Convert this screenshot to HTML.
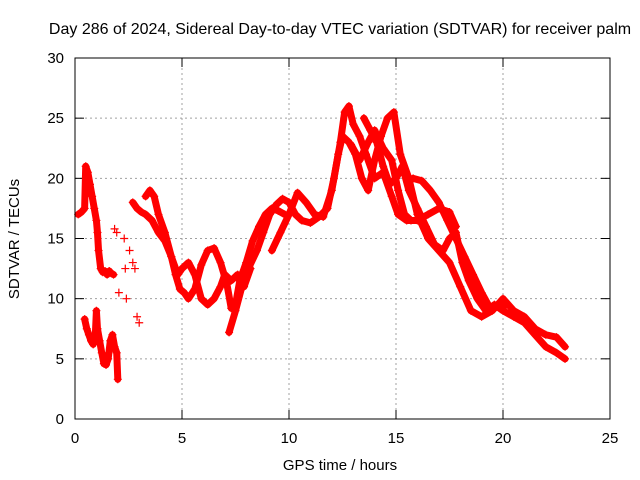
<!DOCTYPE html>
<html><head><meta charset="utf-8"><style>
body{margin:0;background:#fff}
svg{display:block;font-family:"Liberation Sans",sans-serif}
</style></head><body>
<svg id="chart" width="640" height="480" viewBox="0 0 640 480">
<text x="340" y="34" font-size="16" text-anchor="middle">Day 286 of 2024, Sidereal Day-to-day VTEC variation (SDTVAR) for receiver palm</text>
<g id="grid"></g>
<g id="ticks"></g>
<g id="marks"></g>
<rect x="75" y="58" width="535" height="361" fill="none" stroke="#000" stroke-width="1"/>
<text x="340" y="470" font-size="15" text-anchor="middle">GPS time / hours</text>
<text transform="translate(19,239) rotate(-90)" font-size="15" text-anchor="middle">SDTVAR / TECUs</text>
</svg>
<script>
const xTicks=[0,5,10,15,20,25];
const yTicks=[0,5,10,15,20,25,30];
const trackA_x=[0.15,0.3,0.45,0.5,0.6,0.7,0.8,0.9,1.0,1.05,1.1,1.2,1.3,1.4,1.5,1.6,1.7,1.8];
const trackA_y=[17,17.2,17.5,21,20.5,19.5,18.5,17.5,16.5,15.5,14,12.5,12.2,12.3,12,12.3,12.1,12];
const trackB_x=[0.45,0.55,0.65,0.75,0.85,0.95,1.0,1.05,1.15,1.25,1.35,1.45,1.55,1.65,1.75,1.85,1.95,2.0];
const trackB_y=[8.3,7.5,7,6.5,6.2,7,9,7.5,6.5,5.5,4.6,4.5,5,6.5,7,6,5.5,3.3];
const trackC_x=[1.85,1.95,2.05,2.3,2.35,2.4,2.55,2.7,2.8,2.9,3.0];
const trackC_y=[15.8,15.5,10.5,15,12.5,10,14,13,12.5,8.5,8];
const trackD_x=[2.7,2.9,3.1,3.3,3.6,3.9,4.2,4.5,4.7,4.9,5.1,5.3,5.6,5.9,6.2,6.5,6.8,7.1,7.3,7.5,7.7,8.0,8.3,8.6,8.9,9.2,9.5,9.8];
const trackD_y=[18,17.5,17.2,17,16.5,15.5,14.8,13.5,12,10.8,10.5,10,10.8,12.8,14,14.2,13,11.2,9.2,9.5,11.5,13,14.8,16,17,17.5,17.3,17];
const trackE_x=[3.3,3.5,3.7,3.9,4.2,4.5,4.8,5.0,5.3,5.6,5.9,6.2,6.5,6.8,7.0,7.3,7.6,7.9,8.2];
const trackE_y=[18.5,19,18.5,17,15.5,13.5,12,12.5,13,12,10,9.5,10,11,12,11.5,12,11,12.5];
const trackF_x=[7.2,7.5,7.8,8.1,8.5,8.8,9.1,9.4,9.7,10.0,10.3,10.6,11.0,11.4,11.8,12.1,12.4,12.6,12.8,13.0,13.3,13.6,14.0,14.4,14.8,15.1,15.5,16.0,16.5,17.0,17.5,17.8];
const trackF_y=[7.2,9,11,12.5,14,15.5,17,17.8,18.3,18,17,16.5,16.3,16.8,17.5,20,23,25.5,26,24.5,23.5,22,20,20.5,18.5,17,16.5,16.5,17,17.5,17.2,16];
const trackG_x=[9.2,9.6,10.0,10.4,10.8,11.2,11.6,12.0,12.3,12.5,12.8,13.1,13.4,13.7,14.0,14.3,14.6,14.9,15.2,15.6,16.0,16.5,17.0,17.5,18.0,18.5,19.0,19.5,20.0,20.5,21.0,21.5,22.0,22.5,22.9];
const trackG_y=[14,15.5,17,18.8,18,17,16.8,19,22,23.5,23,22,20,19,21.5,23.5,25,25.5,22,20,17,15,14,13,11,9,8.5,9,10,9,8.5,7.5,7,6.8,6];
const trackH_x=[13.5,13.8,14.1,14.4,14.7,15.0,15.3,15.6,16.0,16.4,16.8,17.2,17.5,17.8,18.1,18.4,18.8,19.2,19.6,20.0,20.5,21.0,21.5,22.0,22.5,22.9];
const trackH_y=[25,24,23,21,19.5,20,21,19,17.5,16,14.5,14,15,15.5,13,11.5,10,9,9.5,9,8.5,8,7,6,5.5,5];
const trackI_x=[15.8,16.2,16.6,17.0,17.4,17.8,18.2,18.6,19.0,19.4,19.8,20.2];
const trackI_y=[20,19.8,19,18,16.5,15,13.5,12,10.5,9.2,9.3,9.5];
const trackJ_x=[12.9,13.3,13.7,14.0,14.4,14.8,15.1,15.4,15.7];
const trackJ_y=[22.8,21.5,23,24,22.5,21.5,19,17,16.5];
const tracks=[[trackA_x,trackA_y],[trackB_x,trackB_y],[trackC_x,trackC_y],[trackD_x,trackD_y],[trackE_x,trackE_y],[trackF_x,trackF_y],[trackG_x,trackG_y],[trackH_x,trackH_y],[trackI_x,trackI_y],[trackJ_x,trackJ_y]];
const X=v=>75+v*(535/25), Y=v=>419-v*(361/30);
const NS="http://www.w3.org/2000/svg";
const mk=(t,a,p)=>{const e=document.createElementNS(NS,t);for(const k in a)e.setAttribute(k,a[k]);p.appendChild(e);return e;};
const grid=document.getElementById('grid'),ticks=document.getElementById('ticks'),marks=document.getElementById('marks');
xTicks.forEach(v=>{
  if(v>0&&v<25){const g=mk('line',{x1:X(v),x2:X(v),y1:58,y2:419,stroke:'#a0a0a0','stroke-dasharray':'2,3'},grid);
  
  }
  mk('line',{x1:X(v),x2:X(v),y1:419,y2:410,stroke:'#000'},ticks);
  mk('line',{x1:X(v),x2:X(v),y1:58,y2:67,stroke:'#000'},ticks);
  const t=mk('text',{x:X(v),y:443,'font-size':15,'text-anchor':'middle'},ticks);t.textContent=v;
  
  
});
yTicks.forEach(v=>{
  if(v>0&&v<30){const g=mk('line',{x1:75,x2:610,y1:Y(v),y2:Y(v),stroke:'#a0a0a0','stroke-dasharray':'2,3'},grid);
  
  }
  mk('line',{x1:75,x2:84,y1:Y(v),y2:Y(v),stroke:'#000'},ticks);
  mk('line',{x1:601,x2:610,y1:Y(v),y2:Y(v),stroke:'#000'},ticks);
  const t=mk('text',{x:64,y:Y(v)+5,'font-size':15,'text-anchor':'end'},ticks);t.textContent=v;
  
  
});
tracks.forEach(([xs,ys],i)=>{
  const pts=xs.map((x,j)=>X(x)+','+Y(ys[j])).join(' ');
  if(i!==2){const pl=mk('polyline',{points:pts,fill:'none',stroke:'#ff0000','stroke-width':7,'stroke-linejoin':'round','stroke-linecap':'round'},marks);
  
  }
  xs.forEach((x,j)=>{
    const px=X(x),py=Y(ys[j]);
    const p=mk('path',{d:`M${px-4},${py}h8M${px},${py-4}v8`,stroke:'#ff0000','stroke-width':1.2},marks);
    
    
  });
});
</script>
</body></html>
